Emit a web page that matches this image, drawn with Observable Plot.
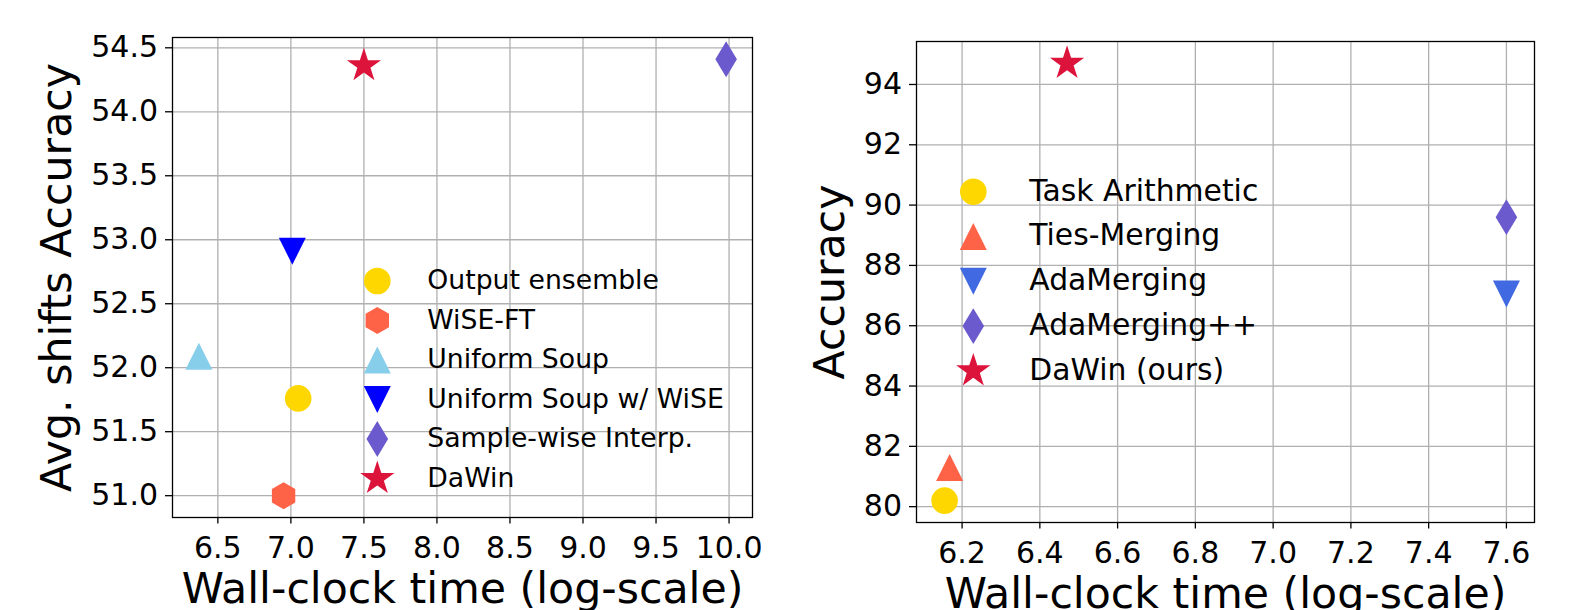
<!DOCTYPE html>
<html><head><meta charset="utf-8">
<script src="https://cdn.jsdelivr.net/npm/d3@7"></script>
<script src="https://cdn.jsdelivr.net/npm/@observablehq/plot@0.6"></script>
<style>
html,body{margin:0;padding:0;background:#fff;}
#wrap{display:flex;width:1577px;height:610px;overflow:hidden;}
#wrap svg{display:block;}
</style></head><body><div id="wrap"></div>
<script>
// ---------- Left panel data ----------
const leftMethods = ["Output ensemble", "WiSE-FT", "Uniform Soup", "Uniform Soup w/ WiSE", "Sample-wise Interp.", "DaWin"];
const leftTime = [7.05, 6.95, 6.37, 7.01, 9.98, 7.50];
const leftAcc = [51.76, 51.00, 52.09, 52.91, 54.41, 54.36];
const leftColors = ["#FFD700", "#FF6347", "#87CEEB", "#0000FF", "#6A5ACD", "#DC143C"];
const leftShapes = ["circle", "hexagon", "triangleUp", "triangleDown", "thinDiamond", "star"];
const leftXTicks = [6.5, 7.0, 7.5, 8.0, 8.5, 9.0, 9.5, 10.0];
const leftYTicks = [51.0, 51.5, 52.0, 52.5, 53.0, 53.5, 54.0, 54.5];
const leftXLabel = "Wall-clock time (log-scale)";
const leftYLabel = "Avg. shifts Accuracy";

// ---------- Right panel data ----------
const rightMethods = ["Task Arithmetic", "Ties-Merging", "AdaMerging", "AdaMerging++", "DaWin (ours)"];
const rightTime = [6.155, 6.168, 7.60, 7.60, 6.47];
const rightAcc = [80.2, 81.3, 87.05, 89.6, 94.7];
const rightColors = ["#FFD700", "#FF6347", "#4169E1", "#6A5ACD", "#DC143C"];
const rightShapes = ["circle", "triangleUp", "triangleDown", "thinDiamond", "star"];
const rightXTicks = [6.2, 6.4, 6.6, 6.8, 7.0, 7.2, 7.4, 7.6];
const rightYTicks = [80, 82, 84, 86, 88, 90, 92, 94];
const rightXLabel = "Wall-clock time (log-scale)";
const rightYLabel = "Accuracy";

// ---------- marker shapes (matplotlib-like) ----------
const R = s => Math.sqrt(s / Math.PI);
const symbols = {
  circle: {draw(c, s) { const r = R(s); c.moveTo(r, 0); c.arc(0, 0, r, 0, 2 * Math.PI); c.closePath(); }},
  hexagon: {draw(c, s) { const r = R(s); for (let i = 0; i < 6; i++) { const a = -Math.PI / 2 + i * Math.PI / 3; const x = r * Math.cos(a), y = r * Math.sin(a); if (i) c.lineTo(x, y); else c.moveTo(x, y); } c.closePath(); }},
  triangleUp: {draw(c, s) { const r = R(s); c.moveTo(0, -r); c.lineTo(r, r); c.lineTo(-r, r); c.closePath(); }},
  triangleDown: {draw(c, s) { const r = R(s); c.moveTo(0, r); c.lineTo(r, -r); c.lineTo(-r, -r); c.closePath(); }},
  thinDiamond: {draw(c, s) { const r = R(s); const h = 1.414 * r, w = 0.849 * r; c.moveTo(0, -h); c.lineTo(w, 0); c.lineTo(0, h); c.lineTo(-w, 0); c.closePath(); }},
  star: {draw(c, s) { const r = R(s), ri = r * 0.381966; for (let i = 0; i < 10; i++) { const a = -Math.PI / 2 + i * Math.PI / 5; const rr = i % 2 ? ri : r; const x = rr * Math.cos(a), y = rr * Math.sin(a); if (i) c.lineTo(x, y); else c.moveTo(x, y); } c.closePath(); }}
};
const shapeSize = {circle: 13.3, hexagon: 13.5, triangleUp: 13.5, triangleDown: 13.5, thinDiamond: 12.7, star: 18};

function padDomain(vals) {
  const [a, b] = d3.extent(vals); const m = (b - a) * 0.05; return [a - m, b + m];
}

function panel(cfg) {
  const idx = d3.range(cfg.methods.length);
  const grid = {stroke: "#b0b0b0", strokeOpacity: 1, strokeWidth: 1.3};
  const svg = Plot.plot({
    width: cfg.width, height: 610,
    marginLeft: cfg.ml, marginRight: cfg.mr, marginTop: cfg.mt, marginBottom: cfg.mb,
    style: {fontFamily: "DejaVu Sans", background: "white", color: "black", overflow: "visible"},
    x: {domain: padDomain(cfg.time)},
    y: {domain: padDomain(cfg.acc)},
    marks: [
      Plot.gridX(cfg.xTicks, grid),
      Plot.gridY(cfg.yTicks, grid),
      ...idx.map(i => Plot.dot([i], {
        x: j => cfg.time[j], y: j => cfg.acc[j],
        r: shapeSize[cfg.shapes[i]], symbol: symbols[cfg.shapes[i]], fill: cfg.colors[i]
      })),
      Plot.frame({stroke: "black", strokeWidth: 1.3}),
      Plot.axisX(cfg.xTicks, {tickFormat: d3.format(".1f"), tickSize: 6.5, tickPadding: 13, fontSize: 30, label: null, strokeWidth: 1.3}),
      Plot.axisY(cfg.yTicks, {tickFormat: cfg.yFormat, tickSize: 7, tickPadding: 7.5, fontSize: 30, label: null, strokeWidth: 1.3}),
      Plot.text([cfg.xLabel], {frameAnchor: "bottom", dy: cfg.xLabelOffset, lineAnchor: "bottom", fontSize: 42.7, text: d => d}),
      Plot.text([cfg.yLabel], {frameAnchor: "left", dx: -cfg.yLabelOffset, rotate: -90, lineAnchor: "top", textAnchor: "middle", fontSize: 42.7, text: d => d})
    ]
  });
  // legend (no frame), drawn over the plot area
  const g = d3.select(svg).append("g").attr("font-family", "DejaVu Sans").attr("text-anchor", "start");
  cfg.methods.forEach((m, i) => {
    const cy = cfg.lg.y0 + i * cfg.lg.dy;
    const r = shapeSize[cfg.shapes[i]];
    g.append("path")
      .attr("transform", `translate(${cfg.lg.x},${cy})`)
      .attr("d", d3.symbol(symbols[cfg.shapes[i]], r * r * Math.PI)())
      .attr("fill", cfg.colors[i]);
    g.append("text").attr("x", cfg.lg.tx).attr("y", cy).attr("dy", "0.3em")
      .attr("text-anchor", "start")
      .attr("font-size", cfg.lg.fs).attr("fill", "black").text(m);
  });
  return svg;
}

const wrap = document.getElementById("wrap");
wrap.append(panel({
  methods: leftMethods, time: leftTime, acc: leftAcc, colors: leftColors, shapes: leftShapes,
  xTicks: leftXTicks, yTicks: leftYTicks, yFormat: d3.format(".1f"),
  xLabel: leftXLabel, yLabel: leftYLabel,
  width: 790, ml: 172, mr: 38, mt: 37, mb: 93,
  xLabelOffset: 85, yLabelOffset: 132,
  lg: {x: 377.3, y0: 281, dy: 39.5, tx: 427.3, fs: 26.7}
}));
wrap.append(panel({
  methods: rightMethods, time: rightTime, acc: rightAcc, colors: rightColors, shapes: rightShapes,
  xTicks: rightXTicks, yTicks: rightYTicks, yFormat: d3.format("d"),
  xLabel: rightXLabel, yLabel: rightYLabel,
  width: 787, ml: 126, mr: 43, mt: 41, mb: 88,
  xLabelOffset: 85.5, yLabelOffset: 103,
  lg: {x: 183.3, y0: 191.7, dy: 44.8, tx: 239.3, fs: 29.8}
}));
</script></body></html>
